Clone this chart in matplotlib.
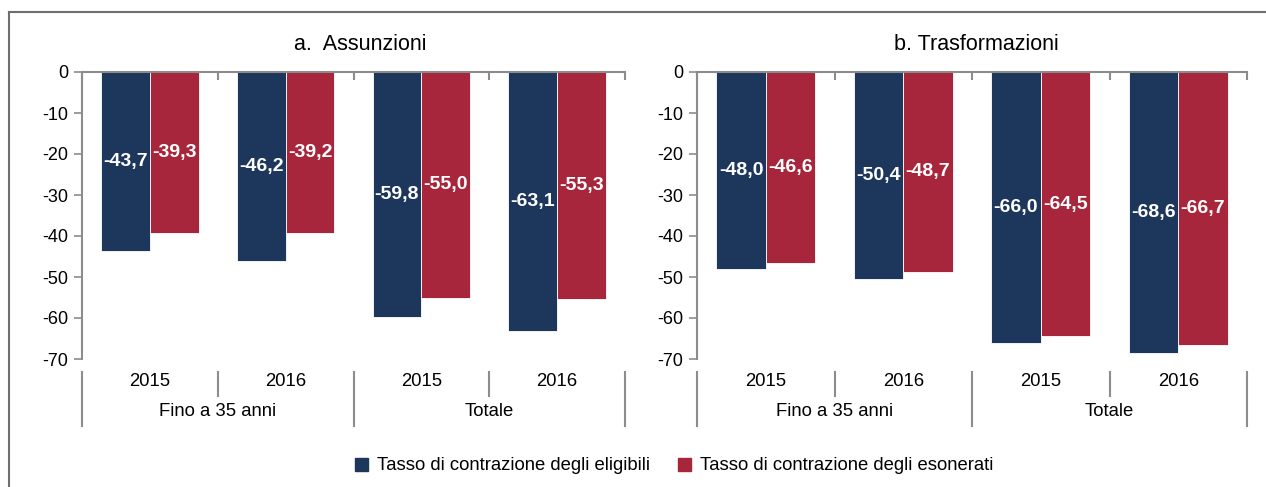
import matplotlib
matplotlib.use("Agg")
import matplotlib.pyplot as plt
from matplotlib.patches import Patch
from matplotlib.lines import Line2D
import numpy as np

plt.rcParams['font.family'] = ['Liberation Sans', 'DejaVu Sans']

years = ["2015", "2016", "2015", "2016"]
groups = ["Fino a 35 anni", "Totale"]
titles = ["a.  Assunzioni", "b. Trasformazioni"]
series_names = ["Tasso di contrazione degli eligibili", "Tasso di contrazione degli esonerati"]
eligibili_a = [-43.7, -46.2, -59.8, -63.1]
esonerati_a = [-39.3, -39.2, -55.0, -55.3]
eligibili_b = [-48.0, -50.4, -66.0, -68.6]
esonerati_b = [-46.6, -48.7, -64.5, -66.7]
yticks = [0, -10, -20, -30, -40, -50, -60, -70]

BLUE = "#1c365c"
RED = "#a8263b"
GRAY = "#8c8c8c"

W, H = 1266, 487
fig = plt.figure(figsize=(W / 100, H / 100), dpi=100)

def fx(px):
    return px / W

def fy(py):
    return 1 - py / H

ax_top, ax_bot = 72, 359
panels = [
    (82, 625, eligibili_a, esonerati_a, titles[0], 360),
    (697, 1247, eligibili_b, esonerati_b, titles[1], 976),
]

bw = 0.36
for (l, r, s1, s2, title, tx) in panels:
    ax = fig.add_axes([fx(l), fy(ax_bot), fx(r - l), (ax_bot - ax_top) / H])
    x = np.arange(len(years))
    b1 = ax.bar(x - bw / 2, s1, bw, color=BLUE, edgecolor="white", linewidth=0.6)
    b2 = ax.bar(x + bw / 2, s2, bw, color=RED, edgecolor="white", linewidth=0.6)
    for bars, vals in ((b1, s1), (b2, s2)):
        for rect, v in zip(bars, vals):
            ax.text(rect.get_x() + rect.get_width() / 2, v / 2,
                    f"{v:.1f}".replace(".", ","), ha="center", va="center",
                    color="white", fontsize=14, fontweight="bold")
    ax.set_xlim(-0.5, len(years) - 0.5)
    ax.set_ylim(-70, 0)
    ax.set_yticks(yticks)
    ax.set_yticklabels([str(t) for t in yticks], fontsize=13)
    for side in ("right", "bottom"):
        ax.spines[side].set_visible(False)
    for side in ("left", "top"):
        ax.spines[side].set_color(GRAY)
        ax.spines[side].set_linewidth(1.5)
    ax.tick_params(axis="y", direction="out", length=6, width=1.2, color=GRAY, pad=4)
    ax.xaxis.tick_top()
    ax.set_xticks(np.arange(len(years) + 1) - 0.5)
    ax.set_xticklabels([])
    ax.tick_params(axis="x", direction="in", length=6, width=1.5, color=GRAY)
    fig.text(fx(tx), fy(45), title, ha="center", va="center", fontsize=15.5)
    trans = ax.get_xaxis_transform()
    h = ax_bot - ax_top
    def ay(py):
        return (ax_bot - py) / h
    for i, yr in enumerate(years):
        ax.text(i, ay(381), yr, transform=trans, ha="center", va="center",
                fontsize=13.3, clip_on=False)
    for b in (0.5, 2.5):
        ax.add_line(Line2D([b, b], [ay(372), ay(396)], transform=trans,
                           color=GRAY, lw=1.5, clip_on=False))
    for b in (-0.5, 1.5, 3.5):
        ax.add_line(Line2D([b, b], [ay(372), ay(426)], transform=trans,
                           color=GRAY, lw=1.5, clip_on=False))
    for j, g in enumerate(groups):
        ax.text(2 * j + 0.5, ay(412), g, transform=trans, ha="center",
                va="center", fontsize=13.3, clip_on=False)

handles = [Patch(facecolor=BLUE, edgecolor=BLUE), Patch(facecolor=RED, edgecolor=RED)]
fig.legend(handles, series_names, loc="center", bbox_to_anchor=(fx(674), fy(466)),
           ncol=2, frameon=False, fontsize=13.3, handlelength=0.7, handleheight=0.7,
           handletextpad=0.5, columnspacing=1.5)

fig.add_artist(Line2D([fx(9), 1], [fy(12), fy(12)], color="#6e6e6e", lw=1.5))
fig.add_artist(Line2D([fx(9), fx(9)], [fy(12), 0], color="#6e6e6e", lw=1.5))

fig.savefig("out.png", dpi=100)
